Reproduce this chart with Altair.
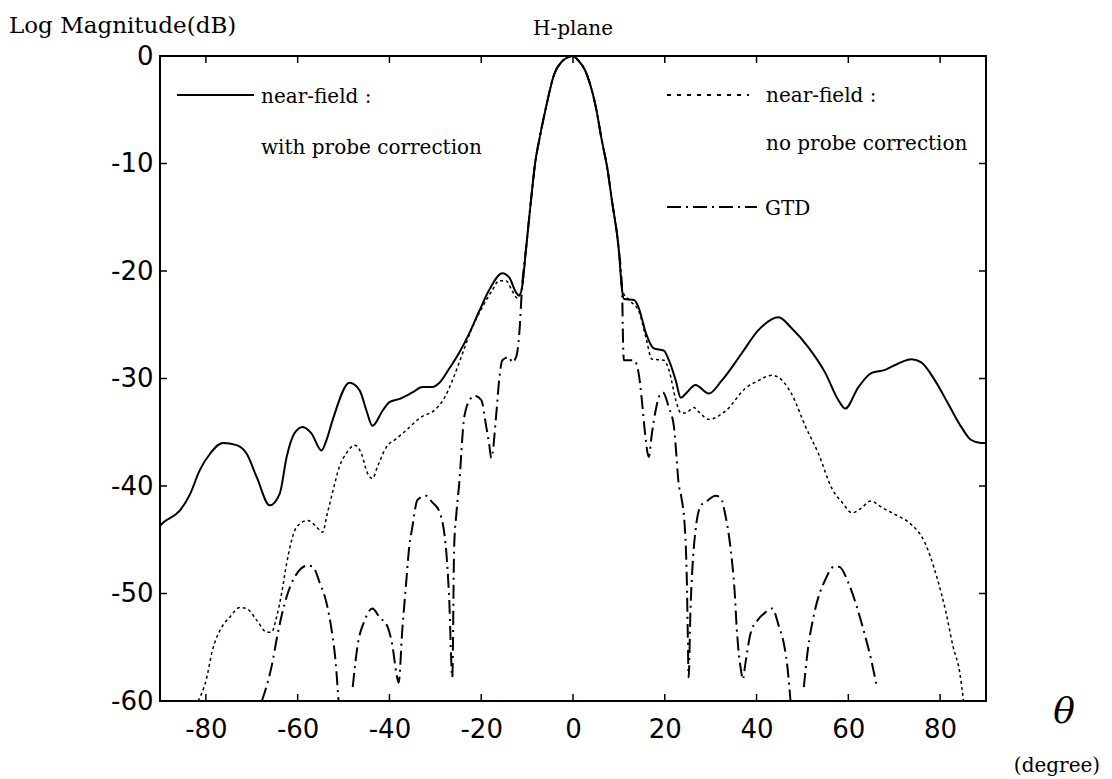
import altair as alt
import pandas as pd

# Plot area size in pixels
W, H = 826, 645

# Near-field pattern with probe correction (solid)
theta_pc = [-90, -89.3, -85.7, -83.5, -81.3, -79.1, -76.3, -73.3, -71.1, -68.9, -66.1,
            -63.9, -62.4, -60.7, -58.9, -57.0, -54.8, -53.7, -52.4, -48.7, -46.5, -45.0,
            -43.7, -41.5, -40.0, -37.8, -35.0, -32.8, -30.7, -29.1, -27.0, -24.8, -22.6,
            -20.4, -18.3, -15.4, -13.9, -12.4, -11.7, -11.1, -10.2, -9.1, -8.2, -7.4,
            -5.9, -4.1, -2.4, -1.0, 0.0, 0.9, 3.0, 5.0, 6.3, 7.5, 8.5, 10.0, 10.7, 11.1,
            13.3, 14.3, 15.9, 17.6, 19.8, 20.9, 22.4, 23.5, 24.6, 26.7, 29.6, 32.4, 36.7,
            40.4, 44.8, 47.6, 51.3, 55.0, 57.8, 59.3, 62.2, 65.0, 68.0, 70.9, 73.7, 75.9,
            78.9, 81.7, 84.6, 86.7, 88.9, 90]
db_pc = [-43.7, -43.4, -42.3, -40.8, -38.5, -37.0, -36.0, -36.2, -37.0, -39.2, -41.8,
         -40.7, -37.3, -35.1, -34.5, -35.1, -36.7, -35.7, -33.9, -30.4, -31.1, -33.0,
         -34.4, -33.0, -32.2, -31.9, -31.3, -30.8, -30.8, -30.4, -29.1, -27.6, -25.8,
         -23.7, -21.8, -20.2, -20.6, -22.0, -22.3, -21.5, -17.8, -13.2, -9.8, -7.9,
         -4.8, -1.7, -0.5, -0.1, 0.0, -0.3, -1.7, -4.8, -7.9, -10.5, -13.5, -18.1, -21.8,
         -22.6, -22.7, -23.4, -25.8, -27.2, -27.4, -28.3, -30.2, -31.8, -31.4, -30.6,
         -31.4, -30.2, -27.7, -25.5, -24.3, -25.3, -27.1, -29.5, -32.0, -32.8, -30.8,
         -29.5, -29.2, -28.6, -28.2, -28.5, -30.2, -32.3, -34.5, -35.7, -36.0, -36.0]

# Near-field pattern without probe correction (dotted)
theta_np = [-81.7, -79.8, -78.7, -76.5, -74.8, -72.6, -71.1, -68.9, -66.7, -65.7, -64.6,
            -63.5, -62.4, -60.2, -57.8, -55.9, -54.6, -53.5, -52.4, -50.9, -49.3, -47.6,
            -46.1, -44.8, -43.7, -42.6, -40.7, -38.5, -36.3, -33.5, -29.8, -28.0, -26.3,
            -24.1, -22.0, -19.8, -17.6, -16.1, -14.6, -13.3, -12.2, -11.1, -10.2, -9.1,
            -8.2, -7.4, -5.9, -4.1, -2.4, -1.0, 0.0, 0.9, 3.0, 5.0, 6.3, 7.5, 8.5, 10.0,
            10.7, 12.2, 14.3, 15.9, 17.2, 19.8, 20.9, 22.4, 23.5, 24.6, 26.3, 27.4, 29.6,
            33.3, 37.6, 40.4, 43.3, 44.8, 47.6, 50.7, 53.5, 56.5, 58.8, 60.8, 62.7, 64.9,
            67.3, 70.4, 73.5, 76.6, 79.3, 81.3, 82.8, 84.3, 85.1]
db_np = [-60.0, -57.8, -55.5, -53.1, -52.2, -51.3, -51.4, -52.5, -53.6, -53.6, -52.2,
         -50.0, -47.2, -43.8, -43.2, -43.8, -44.3, -42.5, -40.6, -38.2, -36.9, -36.2,
         -37.0, -38.8, -39.3, -38.2, -36.4, -35.6, -34.8, -33.7, -32.8, -31.8, -30.2,
         -27.7, -25.3, -23.4, -21.8, -20.9, -20.9, -21.8, -22.5, -21.5, -17.8, -13.2,
         -9.8, -7.9, -4.8, -1.7, -0.5, -0.1, 0.0, -0.3, -1.7, -4.8, -7.9, -10.5, -13.5,
         -18.1, -21.8, -22.7, -23.7, -26.2, -28.2, -28.3, -29.2, -32.0, -33.2, -33.2,
         -32.7, -33.1, -33.8, -33.0, -30.9, -30.2, -29.7, -29.9, -31.4, -34.5, -37.0,
         -40.3, -41.6, -42.5, -42.1, -41.4, -42.0, -42.7, -43.5, -45.2, -48.5, -51.8,
         -54.9, -57.4, -60.0]

# GTD prediction (dash-dot), split where the nulls fall below the floor
theta_gtd_a = [-67.8, -65.4, -64.6, -62.4, -60.7, -57.8, -56.7, -55.2, -53.7, -52.6, -51.7, -51.1]
db_gtd_a = [-60.0, -56.2, -54.3, -50.3, -48.5, -47.4, -47.5, -49.0, -50.9, -53.4, -56.5, -60.0]

theta_gtd_b = [-48.0, -47.0, -45.4, -43.7, -42.2, -40.4, -39.3, -38.5, -38.0, -37.2, -36.3,
               -35.7, -35.0, -33.9, -32.0, -30.7, -29.1, -27.6, -27.0, -26.3, -25.9, -25.4,
               -24.8, -23.7, -22.2, -21.5, -20.0, -18.9, -18.3, -17.8, -16.7, -16.1, -15.4,
               -13.9, -13.3, -12.4, -11.7, -11.1, -10.2, -9.1, -8.2, -7.4, -5.9, -4.1, -2.4,
               -1.0, 0.0, 0.9, 3.0, 5.0, 6.3, 7.5, 8.5, 10.0, 10.7, 10.9, 11.1, 13.3, 14.3,
               15.0, 15.7, 16.5, 17.2, 18.0, 19.1, 19.6, 20.9, 22.0, 22.4, 23.0, 23.6, 24.4,
               24.8, 25.0, 25.2, 25.6, 26.0, 26.7, 27.9, 29.5, 31.0, 32.2, 33.2, 34.1, 34.7,
               35.3, 35.6, 36.0, 36.6, 37.0, 37.6, 38.7, 40.2, 41.8, 43.4, 44.9, 46.1, 46.8,
               47.4]
db_gtd_b = [-58.7, -55.0, -52.5, -51.4, -52.2, -53.1, -55.0, -57.4, -58.3, -53.4, -48.7,
            -45.7, -43.8, -41.3, -40.9, -41.5, -42.4, -46.2, -50.3, -57.8, -45.7, -42.5,
            -39.8, -33.6, -31.8, -31.6, -32.0, -34.5, -36.0, -37.4, -33.2, -30.2, -28.3,
            -28.0, -28.5, -28.0, -25.8, -21.5, -17.8, -13.2, -9.8, -7.9, -4.8, -1.7, -0.5,
            -0.1, 0.0, -0.3, -1.7, -4.8, -7.9, -10.5, -13.5, -18.1, -21.8, -26.5, -28.3,
            -28.3, -29.5, -32.0, -35.1, -37.3, -35.1, -33.0, -31.4, -31.3, -32.7, -34.5,
            -36.4, -39.7, -41.0, -44.1, -48.7, -53.4, -57.8, -51.5, -47.8, -44.1, -41.8,
            -41.3, -40.9, -41.1, -42.7, -45.0, -47.2, -50.3, -52.7, -55.0, -57.1, -58.0,
            -56.4, -53.7, -52.5, -51.8, -51.4, -53.1, -55.0, -57.1, -60.0]

theta_gtd_c = [50.3, 51.1, 52.6, 55.0, 56.9, 58.0, 60.0, 61.9, 63.5, 65.0, 66.2]
db_gtd_c = [-58.7, -55.5, -51.8, -48.7, -47.5, -47.5, -49.0, -51.3, -53.7, -56.2, -58.7]

x_ticks = [-80, -60, -40, -20, 0, 20, 40, 60, 80]
y_ticks = [0, -10, -20, -30, -40, -50, -60]


def frame(xs, ys, seg):
    return pd.DataFrame({"theta": xs, "db": ys, "seg": seg})


df_pc = frame(theta_pc, db_pc, "pc")
df_np = frame(theta_np, db_np, "np")
df_gtd = pd.concat([frame(theta_gtd_a, db_gtd_a, "a"),
                    frame(theta_gtd_b, db_gtd_b, "b"),
                    frame(theta_gtd_c, db_gtd_c, "c")], ignore_index=True)

xscale = alt.Scale(domain=[-90, 90], nice=False, zero=False)
yscale = alt.Scale(domain=[-60, 0], nice=False, zero=False)

# Plain hyphen-minus in tick labels
x_axis = alt.Axis(values=x_ticks, title=None, grid=False, domain=False, ticks=False,
                  labelFont="DejaVu Sans", labelFontSize=26, labelColor="black",
                  labelPadding=15, labelFlush=False, labelExpr="toString(datum.value)")
y_axis = alt.Axis(values=y_ticks, title=None, grid=False, domain=False, ticks=False,
                  labelFont="DejaVu Sans", labelFontSize=26, labelColor="black",
                  labelPadding=7, labelFlush=False, labelExpr="toString(datum.value)")

X = alt.X("theta:Q", scale=xscale, axis=x_axis)
Y = alt.Y("db:Q", scale=yscale, axis=y_axis)

solid = alt.Chart(df_pc).mark_line(color="black", strokeWidth=2, clip=True,
                                   interpolate="monotone").encode(x=X, y=Y, order="theta:Q")
dotted = alt.Chart(df_np).mark_line(color="black", strokeWidth=1.5, strokeDash=[3, 3],
                                    clip=True, interpolate="monotone").encode(
    x=X, y=Y, order="theta:Q")
gtd = alt.Chart(df_gtd).mark_line(color="black", strokeWidth=2, strokeDash=[14, 5, 2, 5],
                                  clip=True, interpolate="monotone").encode(
    x=X, y=Y, detail="seg:N", order="theta:Q")

# Inward tick marks on all four sides of the frame
yt = pd.DataFrame({"db": y_ticks})
xt = pd.DataFrame({"theta": x_ticks})
tick_l = alt.Chart(yt).mark_rule(color="black", strokeWidth=1.5).encode(
    y=Y, x=alt.value(0), x2=alt.value(7))
tick_r = alt.Chart(yt).mark_rule(color="black", strokeWidth=1.5).encode(
    y=Y, x=alt.value(W), x2=alt.value(W - 7))
tick_t = alt.Chart(xt).mark_rule(color="black", strokeWidth=1.5).encode(
    x=X, y=alt.value(0), y2=alt.value(7))
tick_b = alt.Chart(xt).mark_rule(color="black", strokeWidth=1.5).encode(
    x=X, y=alt.value(H), y2=alt.value(H - 7))

# Legend keys
key_df = pd.DataFrame({"k": [0]})
key_solid = alt.Chart(key_df).mark_rule(color="black", strokeWidth=2).encode(
    x=alt.value(17), x2=alt.value(94), y=alt.value(39))
key_dot = alt.Chart(key_df).mark_rule(color="black", strokeWidth=2, strokeDash=[4, 6]).encode(
    x=alt.value(507), x2=alt.value(589), y=alt.value(39))
key_gtd = alt.Chart(key_df).mark_rule(color="black", strokeWidth=2, strokeDash=[14, 5, 2, 5]).encode(
    x=alt.value(507), x2=alt.value(597), y=alt.value(151))

serif = "DejaVu Serif"


def label(text, x, y, size=20, align="left", baseline="alphabetic", style="normal"):
    return alt.Chart(key_df).mark_text(
        text=text, font=serif, fontSize=size, align=align, baseline=baseline,
        fontStyle=style, color="black").encode(x=alt.value(x), y=alt.value(y))


texts = [
    label("near-field :", 101, 47),
    label("with probe correction", 101, 98),
    label("near-field :", 606, 46),
    label("no probe correction", 606, 94),
    label("GTD", 605, 159),
    label("H-plane", 413, -21, size=20, align="center"),
    label("Log Magnitude(dB)", -151, -23, size=23),
    label("θ", 904, 667, size=36, align="center", style="italic"),
    label("(degree)", 897, 710, size=20, align="center", baseline="middle"),
]

chart = alt.layer(
    solid, dotted, gtd, tick_l, tick_r, tick_t, tick_b,
    key_solid, key_dot, key_gtd, *texts
).properties(
    width=W, height=H,
    autosize=alt.AutoSizeParams(type="none"),
    padding={"left": 160, "top": 56, "right": 1112 - 160 - W, "bottom": 779 - 56 - H},
    background="white",
).configure_view(stroke="black", strokeWidth=2)

chart.save("out.html", embed_options={"renderer": "svg", "actions": False})
